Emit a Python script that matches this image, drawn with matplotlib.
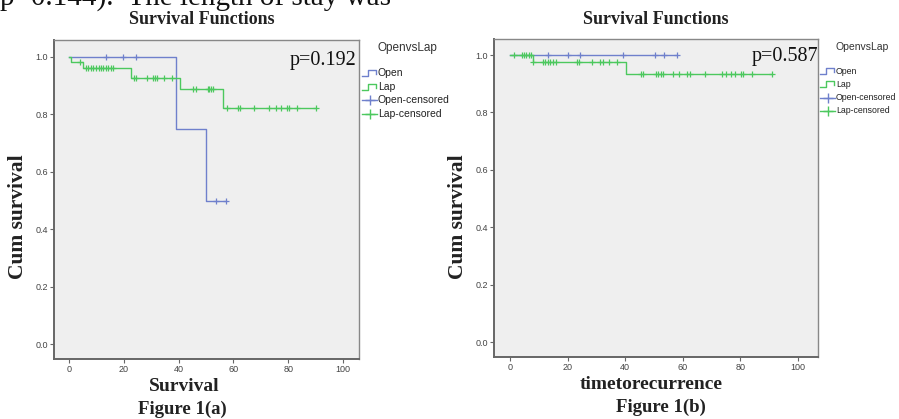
import matplotlib
matplotlib.use("Agg")
import matplotlib.pyplot as plt
from matplotlib.lines import Line2D
import numpy as np

# ---------------- data ----------------
# Figure 1(a): Survival
a_open_times = [0, 39.2, 50.0, 57.3]
a_open_surv = [1.0, 0.75, 0.50, 0.50]
a_open_cens_t = [13.4, 19.8, 24.5, 53.5, 57.3]
a_open_cens_s = [1.0, 1.0, 1.0, 0.50, 0.50]

a_lap_times = [0, 0.6, 5.0, 22.6, 40.5, 56.1, 90.0]
a_lap_surv = [1.0, 0.982, 0.963, 0.928, 0.887, 0.823, 0.823]
a_lap_cens_t = [4.0, 6.2, 7.0, 7.9, 8.8, 9.9, 10.8, 11.7, 12.5, 13.5, 14.3, 15.3, 15.9,
                23.7, 24.5, 28.6, 30.8, 31.3, 32.2, 34.8, 37.6,
                45.1, 46.2, 50.6, 51.2, 51.9, 52.7,
                57.8, 61.6, 62.2, 67.5, 73.1, 75.5, 77.3, 79.5, 80.2, 83.1, 90.0]
a_lap_cens_s = [0.982] + [0.963] * 12 + [0.928] * 8 + [0.887] * 6 + [0.823] * 11

# Figure 1(b): timetorecurrence
b_open_times = [0, 58.1]
b_open_surv = [1.0, 1.0]
b_open_cens_t = [13.3, 20.0, 24.3, 39.3, 50.3, 53.5, 58.1]
b_open_cens_s = [1.0] * 7

b_lap_times = [0, 8.1, 40.3, 90.9]
b_lap_surv = [1.0, 0.977, 0.934, 0.934]
b_lap_cens_t = [1.4, 4.1, 4.9, 5.6, 6.4, 7.1,
                7.9, 11.4, 12.2, 13.0, 13.9, 14.8, 16.0, 23.2, 24.1, 28.4, 31.3, 32.2, 34.5, 37.3,
                45.4, 46.3, 50.6, 51.5, 52.3, 53.2, 56.7, 58.7, 61.6, 62.5, 67.7, 73.7, 75.2,
                76.6, 78.1, 80.1, 81.0, 83.9, 90.9]
b_lap_cens_s = [1.0] * 6 + [0.977] * 14 + [0.934] * 19

x_ticks = [0, 20, 40, 60, 80, 100]
y_ticks = [0.0, 0.2, 0.4, 0.6, 0.8, 1.0]
y_ticklabels = ["0.0", "0.2", "0.4", "0.6", "0.8", "1.0"]
legend_title = "OpenvsLap"
legend_labels = ["Open", "Lap", "Open-censored", "Lap-censored"]

BLUE = "#6f80cc"
GREEN = "#4cc85e"
BG = "#efefef"
FRAME = "#666666"
SERIF = "Liberation Serif"
SANS = "Liberation Sans"

W, H = 899, 419
fig = plt.figure(figsize=(W / 100, H / 100), dpi=100)


def fx(px):
    return px / W


def fy(py):
    return 1 - py / H


def make_axes(rect_px, xlim, ylim):
    x0, y0, x1, y1 = rect_px
    ax = fig.add_axes([fx(x0), fy(y1), fx(x1) - fx(x0), (y1 - y0) / H])
    ax.set_facecolor(BG)
    ax.set_xlim(*xlim)
    ax.set_ylim(*ylim)
    ax.set_xticks(x_ticks)
    ax.set_xticklabels([str(t) for t in x_ticks])
    ax.set_yticks(y_ticks)
    ax.set_yticklabels(y_ticklabels)
    for sp in ax.spines.values():
        sp.set_color("#888888")
        sp.set_linewidth(1.0)
    ax.spines["left"].set_color(FRAME)
    ax.spines["bottom"].set_color(FRAME)
    ax.spines["left"].set_linewidth(1.4)
    ax.spines["bottom"].set_linewidth(1.4)
    ax.tick_params(axis="both", length=3, width=0.8, color=FRAME,
                   labelsize=6.5, labelcolor="#444444", pad=1.5)
    for lab in ax.get_xticklabels() + ax.get_yticklabels():
        lab.set_family(SANS)
    return ax


def draw_km(ax, t, s, ct, cs, color):
    ax.step(t, s, where="post", color=color, lw=1.0)
    ax.plot(ct, cs, linestyle="none", marker="+", markersize=5,
            markeredgewidth=0.9, color=color)


def draw_legend(x0, y0, tsize, lsize, gap=25, step=13.7):
    fig.text(fx(x0 + 15), fy(y0), legend_title, family=SANS, fontsize=tsize,
             color="#333333", va="center", ha="left")
    ys = [y0 + gap + i * step for i in range(4)]
    cols = [BLUE, GREEN, BLUE, GREEN]
    for i, (lab, yy, c) in enumerate(zip(legend_labels, ys, cols)):
        if i < 2:
            xs = [x0, x0 + 6, x0 + 6, x0 + 14, x0 + 14]
            yv = [yy + 3, yy + 3, yy - 3, yy - 3, yy + 1]
            fig.add_artist(Line2D([fx(v) for v in xs], [fy(v) for v in yv],
                                  color=c, lw=1.0, transform=fig.transFigure))
        else:
            fig.add_artist(Line2D([fx(x0), fx(x0 + 15)], [fy(yy), fy(yy)],
                                  color=c, lw=1.0, transform=fig.transFigure))
            fig.add_artist(Line2D([fx(x0 + 7.5)], [fy(yy)], marker="+",
                                  markersize=7, markeredgewidth=1.0, color=c,
                                  linestyle="none", transform=fig.transFigure))
        fig.text(fx(x0 + 16), fy(yy), lab, family=SANS, fontsize=lsize,
                 color="#222222", va="center", ha="left")


# ---------------- panel (a) ----------------
axa = make_axes((54, 40, 359, 359), (-5.5, 105.8), (-0.052, 1.059))
draw_km(axa, a_open_times, a_open_surv, a_open_cens_t, a_open_cens_s, BLUE)
draw_km(axa, a_lap_times, a_lap_surv, a_lap_cens_t, a_lap_cens_s, GREEN)
axa.text(0.99, 0.965, "p=0.192", transform=axa.transAxes, ha="right", va="top",
         family=SERIF, fontsize=14.5, color="#111111")
draw_legend(362, 48, 8.5, 7.5)

# ---------------- panel (b) ----------------
axb = make_axes((494, 39, 818, 357), (-5.6, 107.0), (-0.052, 1.056))
draw_km(axb, b_open_times, b_open_surv, b_open_cens_t, b_open_cens_s, BLUE)
draw_km(axb, b_lap_times, b_lap_surv, b_lap_cens_t, b_lap_cens_s, GREEN)
axb.text(1.0, 0.975, "p=0.587", transform=axb.transAxes, ha="right", va="top",
         family=SERIF, fontsize=14.5, color="#111111")
draw_legend(820, 47, 7.5, 6.3, gap=24, step=13.3)

# ---------------- texts ----------------
fig.text(fx(0), fy(6), "p=0.144).  The length of stay was", family=SERIF,
         fontsize=21, color="#111111", ha="left", va="baseline")

fig.text(fx(202), fy(20), "Survival Functions", family=SERIF, fontweight="bold",
         fontsize=13, ha="center", va="center", color="#222222")
fig.text(fx(656), fy(20), "Survival Functions", family=SERIF, fontweight="bold",
         fontsize=13, ha="center", va="center", color="#222222")

fig.text(fx(18), fy(217), "Cum survival", family=SERIF, fontweight="bold",
         fontsize=15.5, rotation=90, ha="center", va="center", color="#222222")
fig.text(fx(458), fy(217), "Cum survival", family=SERIF, fontweight="bold",
         fontsize=15.5, rotation=90, ha="center", va="center", color="#222222")

fig.text(fx(184), fy(386), "Survival", family=SERIF, fontweight="bold",
         fontsize=14, ha="center", va="center", color="#222222")
fig.text(fx(182), fy(409), "Figure 1(a)", family=SERIF, fontweight="bold",
         fontsize=13.5, ha="center", va="center", color="#222222")
fig.text(fx(651), fy(384), "timetorecurrence", family=SERIF, fontweight="bold",
         fontsize=14, ha="center", va="center", color="#222222")
fig.text(fx(661), fy(407), "Figure 1(b)", family=SERIF, fontweight="bold",
         fontsize=13.5, ha="center", va="center", color="#222222")

fig.savefig("out.png", dpi=100)
